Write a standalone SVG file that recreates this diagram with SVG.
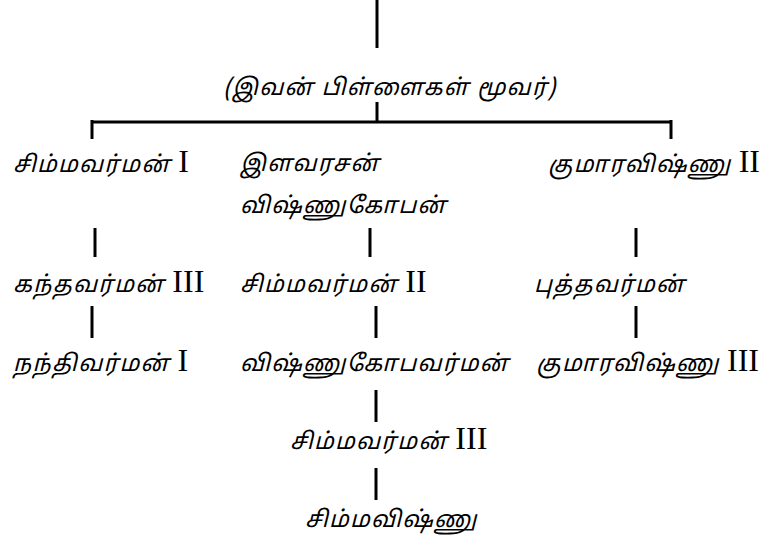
<svg xmlns="http://www.w3.org/2000/svg" width="768" height="548" viewBox="0 0 768 548">
<style>
.t{font-family:"Noto Sans Tamil","Noto Sans","Latha",sans-serif;font-size:23px;font-style:italic;letter-spacing:1.3px;fill:#000}
.r{font-family:"Liberation Serif",serif;font-size:32px;font-style:normal;letter-spacing:0}
.c line{stroke:#000;stroke-width:3}
</style>
<rect width="768" height="548" fill="#fff"/>
<g class="c" id="connectors">
<line x1="377" y1="0" x2="377" y2="48"/>
<line x1="377" y1="102" x2="377" y2="123"/>
<line x1="91" y1="122" x2="672" y2="122"/>
<line x1="92" y1="120" x2="92" y2="139"/>
<line x1="671" y1="120" x2="671" y2="139"/>
<line x1="95" y1="228" x2="95" y2="257"/>
<line x1="370" y1="228" x2="370" y2="257"/>
<line x1="636" y1="228" x2="636" y2="257"/>
<line x1="92" y1="306" x2="92" y2="338"/>
<line x1="376" y1="306" x2="376" y2="338"/>
<line x1="636" y1="306" x2="636" y2="338"/>
<line x1="376" y1="390" x2="376" y2="422"/>
<line x1="376" y1="468" x2="376" y2="500"/>
</g>
<g id="n0"><text class="t" x="390" y="95" text-anchor="middle">(இவன் பிள்ளைகள் மூவர்)</text></g>
<g id="n1"><text class="t" x="13" y="172">சிம்மவர்மன் <tspan class="r">I</tspan></text></g>
<g id="n2"><text class="t" x="240" y="171">இளவரசன்</text><text class="t" x="240" y="213">விஷ்ணுகோபன்</text></g>
<g id="n3"><text class="t" x="760" y="172" text-anchor="end">குமாரவிஷ்ணு <tspan class="r">II</tspan></text></g>
<g id="n4"><text class="t" x="13" y="292">கந்தவர்மன் <tspan class="r">III</tspan></text></g>
<g id="n5"><text class="t" x="240" y="292">சிம்மவர்மன் <tspan class="r">II</tspan></text></g>
<g id="n6"><text class="t" x="534" y="292">புத்தவர்மன்</text></g>
<g id="n7"><text class="t" x="13" y="371">நந்திவர்மன் <tspan class="r">I</tspan></text></g>
<g id="n8"><text class="t" x="240" y="371">விஷ்ணுகோபவர்மன்</text></g>
<g id="n9"><text class="t" x="759" y="371" text-anchor="end">குமாரவிஷ்ணு <tspan class="r">III</tspan></text></g>
<g id="n10"><text class="t" x="290" y="449">சிம்மவர்மன் <tspan class="r">III</tspan></text></g>
<g id="n11"><text class="t" x="305" y="527">சிம்மவிஷ்ணு</text></g>
</svg>
